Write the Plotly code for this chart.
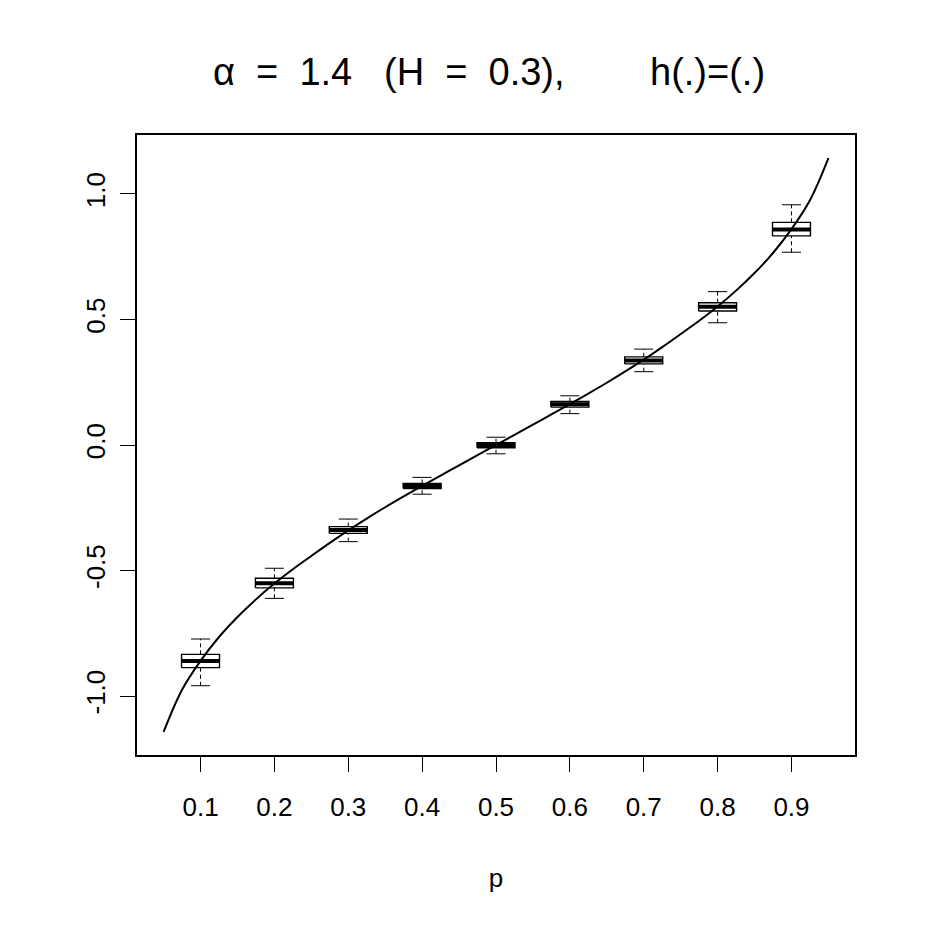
import plotly.graph_objects as go

# Box statistics
p_pos = [0.1, 0.2, 0.3, 0.4, 0.5, 0.6, 0.7, 0.8, 0.9]
lower_whisker = [-0.959, -0.611, -0.385, -0.196, -0.035, 0.125, 0.292, 0.487, 0.768]
q1 = [-0.887, -0.569, -0.352, -0.173, -0.011, 0.151, 0.323, 0.534, 0.833]
median = [-0.861, -0.551, -0.339, -0.163, 0.000, 0.162, 0.337, 0.551, 0.859]
q3 = [-0.834, -0.531, -0.325, -0.153, 0.009, 0.173, 0.351, 0.567, 0.887]
upper_whisker = [-0.773, -0.491, -0.295, -0.129, 0.031, 0.196, 0.382, 0.611, 0.957]

# Theoretical curve
curve_p = [0.050, 0.075, 0.100, 0.125, 0.150, 0.175, 0.200, 0.225, 0.250, 0.275,
           0.300, 0.325, 0.350, 0.375, 0.400, 0.425, 0.450, 0.475, 0.500,
           0.525, 0.550, 0.575, 0.600, 0.625, 0.650, 0.675, 0.700, 0.725,
           0.750, 0.775, 0.800, 0.825, 0.850, 0.875, 0.900, 0.925, 0.950]
curve_q = [-1.143, -0.975, -0.860, -0.765, -0.685, -0.615, -0.552, -0.495, -0.442, -0.390,
           -0.340, -0.293, -0.248, -0.205, -0.163, -0.122, -0.081, -0.040, 0.000,
           0.040, 0.081, 0.122, 0.163, 0.205, 0.248, 0.293, 0.340, 0.390,
           0.442, 0.495, 0.552, 0.615, 0.685, 0.765, 0.860, 0.975, 1.143]

x_tickvals = [0.1, 0.2, 0.3, 0.4, 0.5, 0.6, 0.7, 0.8, 0.9]
x_ticktext = ["0.1", "0.2", "0.3", "0.4", "0.5", "0.6", "0.7", "0.8", "0.9"]
y_tickvals = [-1.0, -0.5, 0.0, 0.5, 1.0]
y_ticktext = ["-1.0", "-0.5", "0.0", "0.5", "1.0"]

nb = "\u00a0"
title_parts = [f"α{nb}{nb}={nb}{nb}1.4", f"(H{nb}{nb}={nb}{nb}0.3),", "h(.)=(.)"]
title_px = [282, 474, 707]  # pixel centres of the title pieces
title_py = 72

L, R, T, B = 137, 855, 135, 755

BOX_HALF = 0.0257
CAP_HALF = 0.0129

fig = go.Figure()

for i, x in enumerate(p_pos):
    fig.add_trace(go.Scatter(x=[x, x, None, x, x],
                             y=[lower_whisker[i], q1[i], None, q3[i], upper_whisker[i]],
                             mode="lines", line=dict(color="black", width=1, dash="4px,3px"),
                             hoverinfo="skip", showlegend=False))
    fig.add_trace(go.Scatter(x=[x - CAP_HALF, x + CAP_HALF, None, x - CAP_HALF, x + CAP_HALF],
                             y=[lower_whisker[i], lower_whisker[i], None, upper_whisker[i], upper_whisker[i]],
                             mode="lines", line=dict(color="black", width=1),
                             hoverinfo="skip", showlegend=False))
    fig.add_trace(go.Scatter(x=[x - BOX_HALF, x + BOX_HALF, x + BOX_HALF, x - BOX_HALF, x - BOX_HALF],
                             y=[q1[i], q1[i], q3[i], q3[i], q1[i]],
                             mode="lines", fill="toself", fillcolor="white",
                             line=dict(color="black", width=1.4),
                             hoverinfo="skip", showlegend=False))
    fig.add_trace(go.Scatter(x=[x - BOX_HALF, x + BOX_HALF], y=[median[i], median[i]],
                             mode="lines", line=dict(color="black", width=4),
                             hoverinfo="skip", showlegend=False))

fig.add_trace(go.Scatter(x=curve_p, y=curve_q, mode="lines", line_shape="spline",
                         line=dict(color="black", width=2), hoverinfo="skip", showlegend=False))

FONT = "Liberation Sans, Arial, sans-serif"
for txt, px in zip(title_parts, title_px):
    fig.add_annotation(text=txt, x=(px - L) / (R - L), y=(B - title_py) / (B - T),
                       xref="paper", yref="paper",
                       xanchor="center", yanchor="middle", showarrow=False,
                       font=dict(size=38, family=FONT, color="black"))

fig.update_layout(
    width=925, height=925,
    paper_bgcolor="white", plot_bgcolor="white",
    margin=dict(l=L, r=925 - R, t=T, b=925 - B),
    font=dict(family=FONT, color="black"),
    xaxis=dict(range=[0.014, 0.986], showgrid=False, zeroline=False,
               showline=True, mirror=True, linecolor="black", linewidth=1.5,
               ticks="outside", ticklen=15, tickcolor="black", tickwidth=1,
               tickvals=x_tickvals, ticktext=x_ticktext, ticklabelstandoff=13,
               tickfont=dict(size=26, family=FONT),
               title=dict(text="p", font=dict(size=26, family=FONT), standoff=48)),
    yaxis=dict(range=[-1.235, 1.235], showgrid=False, zeroline=False,
               showline=True, mirror=True, linecolor="black", linewidth=1.5,
               ticks="outside", ticklen=15, tickcolor="black", tickwidth=1,
               tickvals=y_tickvals, ticktext=y_ticktext, tickangle=-90,
               ticklabelstandoff=5,
               tickfont=dict(size=26, family=FONT)),
)

fig.write_html("out.html")
